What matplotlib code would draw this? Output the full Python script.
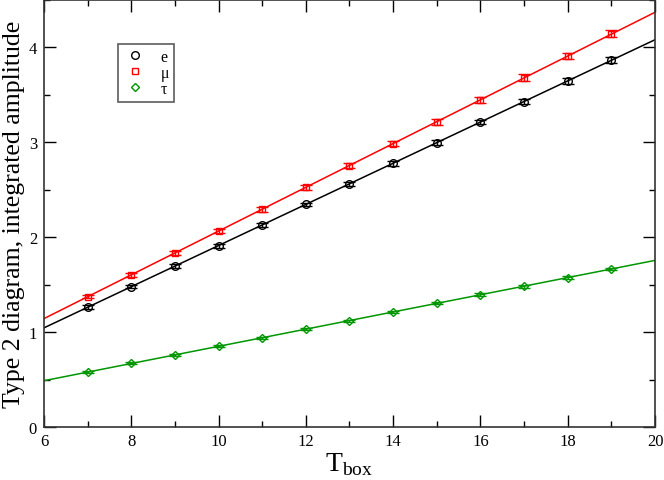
import numpy as np
import matplotlib
matplotlib.use("Agg")
import matplotlib.pyplot as plt
from matplotlib.ticker import MultipleLocator

# data
t_box = np.array([7, 8, 9, 10, 11, 12, 13, 14, 15, 16, 17, 18, 19])
amp_e = np.array([1.265, 1.48, 1.695, 1.91, 2.13, 2.345, 2.56, 2.78, 2.995, 3.215, 3.43, 3.65, 3.865])
err_e = np.array([0.02, 0.02, 0.02, 0.02, 0.02, 0.02, 0.025, 0.025, 0.025, 0.025, 0.03, 0.03, 0.03])
amp_mu = np.array([1.375, 1.605, 1.835, 2.065, 2.295, 2.525, 2.755, 2.985, 3.215, 3.445, 3.68, 3.91, 4.145])
err_mu = np.array([0.02, 0.02, 0.02, 0.02, 0.025, 0.025, 0.025, 0.025, 0.03, 0.03, 0.035, 0.035, 0.04])
amp_tau = np.array([0.58, 0.67, 0.76, 0.85, 0.94, 1.03, 1.12, 1.21, 1.305, 1.395, 1.485, 1.575, 1.665])
err_tau = np.array([0.01, 0.01, 0.01, 0.01, 0.01, 0.01, 0.012, 0.012, 0.012, 0.012, 0.015, 0.015, 0.015])

green = "#009600"
plt.rcParams["font.family"] = ["Liberation Serif", "DejaVu Serif"]
plt.rcParams["mathtext.fontset"] = "custom"
plt.rcParams["mathtext.rm"] = "Liberation Serif"

fig = plt.figure(figsize=(6.64, 4.81), dpi=100)
ax = fig.add_axes([44/664, 1 - 428/481, 611/664, 427/481])

xfit = np.linspace(6, 20, 50)
for y, err, col, mk, lab in [(amp_e, err_e, "black", "o", "e"),
                              (amp_mu, err_mu, "red", "s", "\u03bc"),
                              (amp_tau, err_tau, green, "D", "\u03c4")]:
    p = np.polyfit(t_box, y, 1)
    ax.plot(xfit, np.polyval(p, xfit), color=col, lw=1.1)
    ax.errorbar(t_box, y, yerr=err, fmt="none", ecolor=col, elinewidth=1, capsize=4, capthick=1)
    ms = 5.5 if mk == "o" else (4.8 if mk == "s" else 4.3)
    ax.plot(t_box, y, linestyle="none", marker=mk, markersize=ms, markerfacecolor="none",
            markeredgecolor=col, markeredgewidth=1, label=lab)

ax.set_xlim(6, 20)
ax.set_ylim(0, 4.5)
ax.xaxis.set_major_locator(MultipleLocator(2))
ax.xaxis.set_minor_locator(MultipleLocator(1))
ax.yaxis.set_major_locator(MultipleLocator(1))
ax.yaxis.set_minor_locator(MultipleLocator(0.5))
ax.tick_params(which="both", direction="in", top=True, right=True, labelsize=12, width=1)
ax.tick_params(which="major", length=8.5)
ax.tick_params(which="minor", length=4)
ax.tick_params(axis="x", pad=4)
ax.tick_params(axis="y", pad=5)
for s in ax.spines.values():
    s.set_linewidth(1.2)
    s.set_color("#333333")

ax.set_xlabel(r"T$_{\rm box}$", fontsize=20, labelpad=1)
ax.set_ylabel("Type 2 diagram, integrated amplitude", fontsize=18.5, labelpad=3)

leg = ax.legend(loc="upper left", bbox_to_anchor=(74/611, 1 - 44/427), borderaxespad=0,
                fontsize=11.5, frameon=True, fancybox=False, edgecolor="#333333",
                handlelength=1.55, handletextpad=0.8, borderpad=0.3, labelspacing=0.0)
leg.get_frame().set_linewidth(1.2)

fig.savefig("out.png", dpi=100)
